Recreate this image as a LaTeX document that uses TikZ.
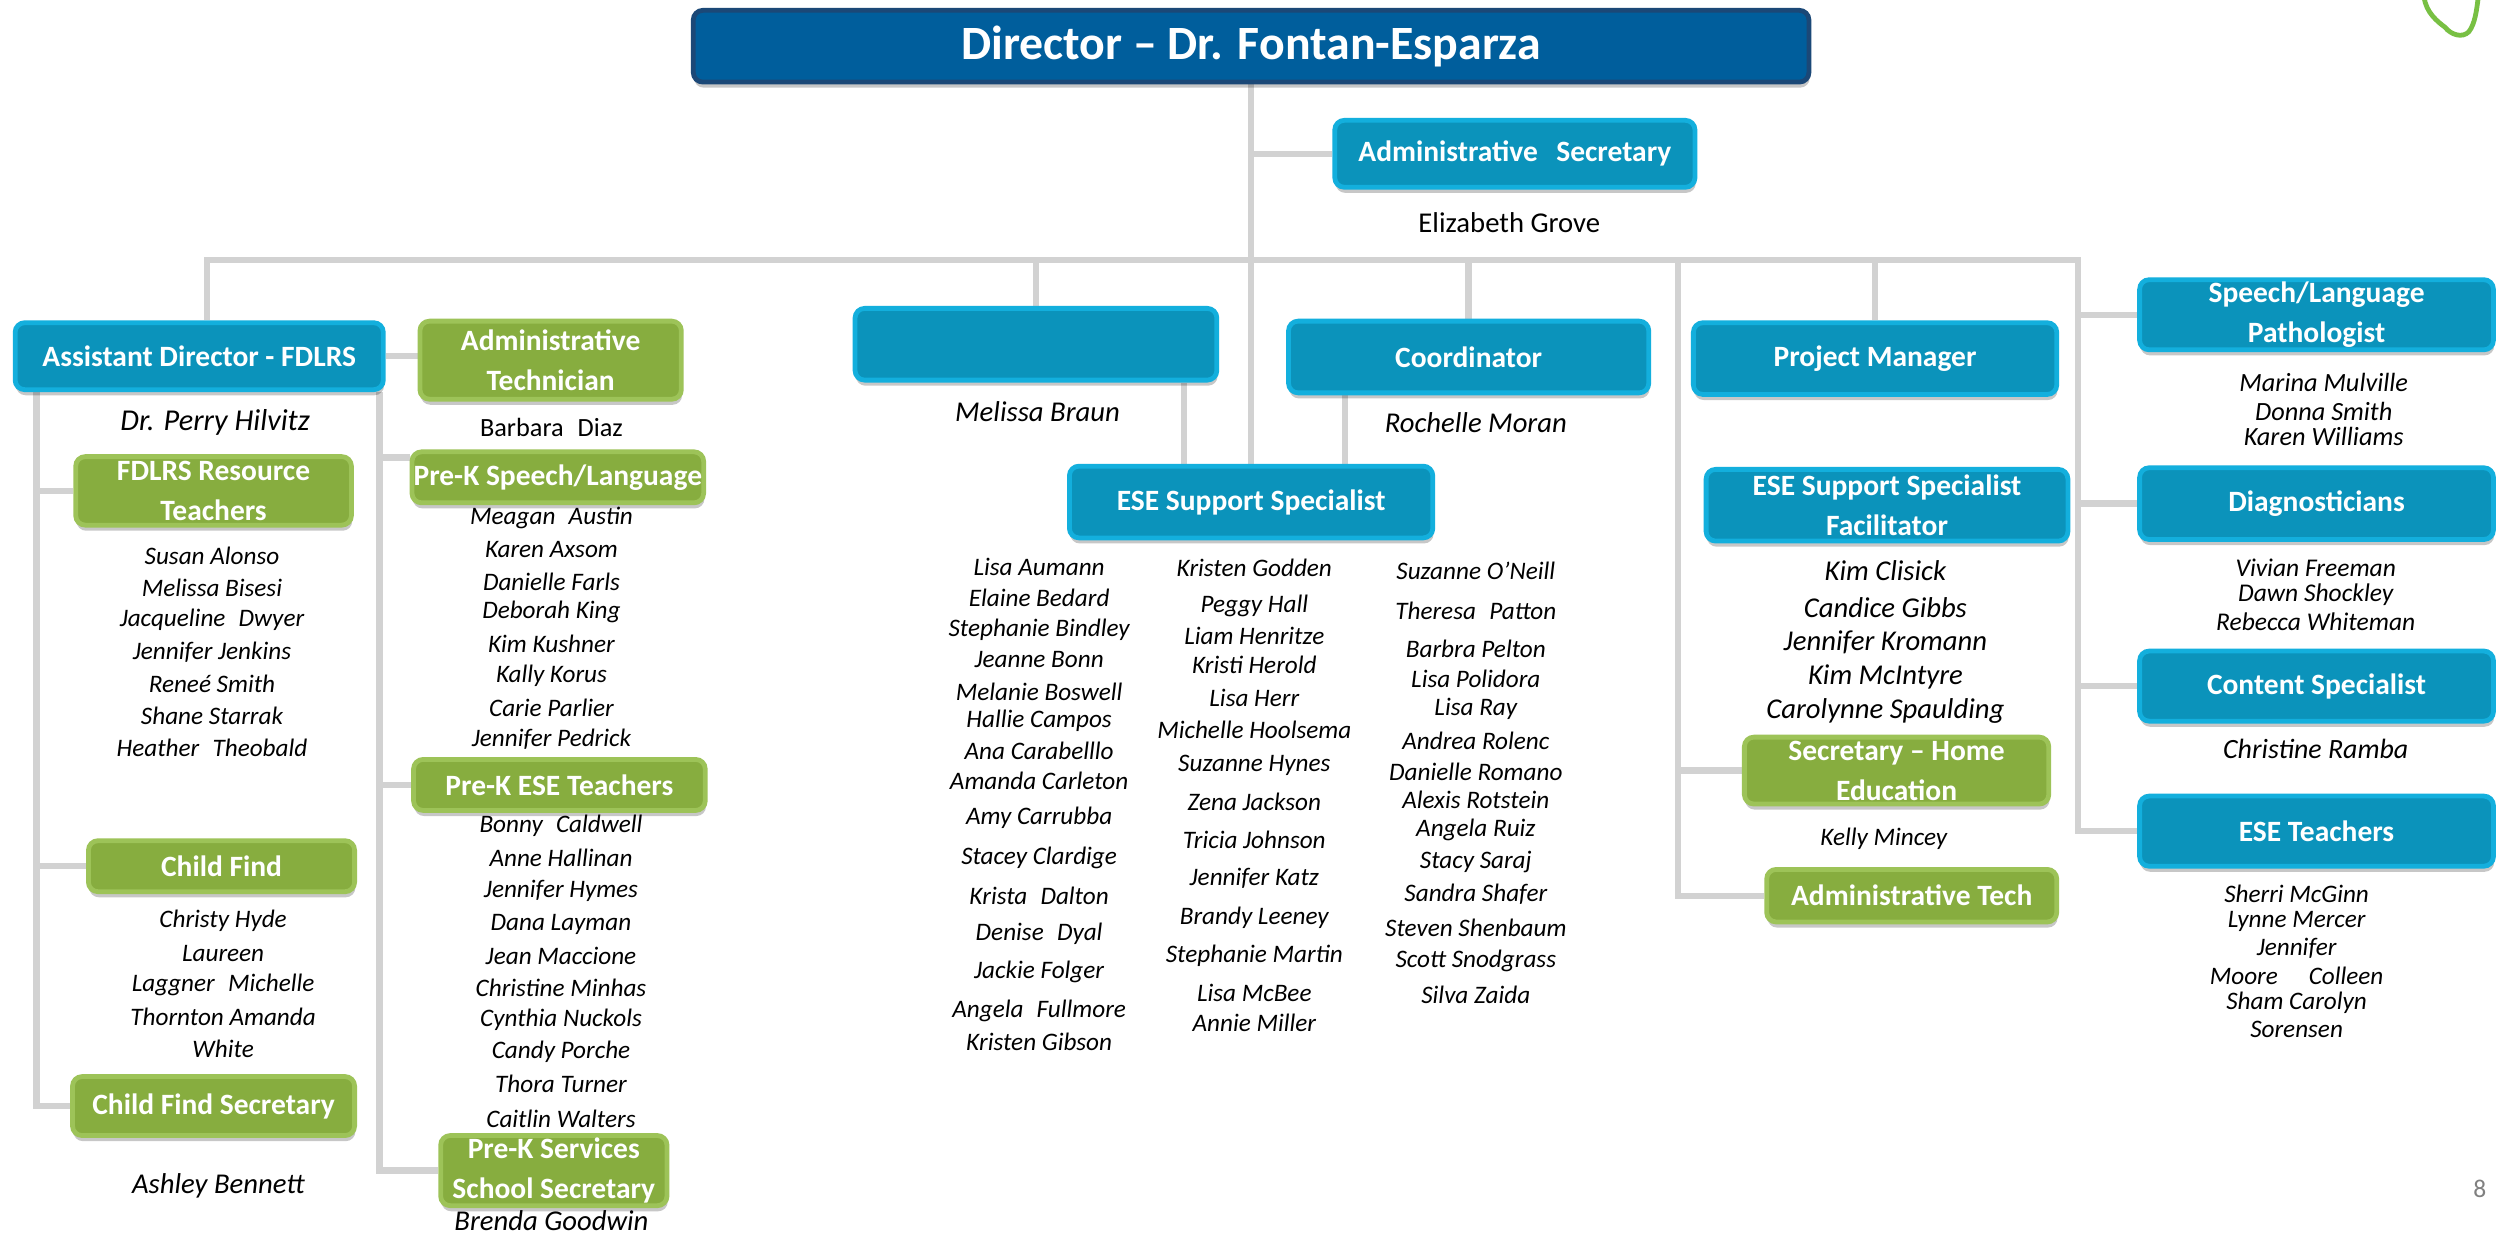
\documentclass[tikz,border=0pt]{standalone}
\usepackage{fontspec}
\setmainfont{Carlito}
\usetikzlibrary{shadows}
\definecolor{dirfill}{HTML}{005E9C}
\definecolor{dirborder}{HTML}{1B4877}
\definecolor{bluefill}{HTML}{0B93BB}
\definecolor{blueborder}{HTML}{13AFDD}
\definecolor{greenfill}{HTML}{87AD3F}
\definecolor{greenborder}{HTML}{9DC358}
\definecolor{connc}{HTML}{D2D2D2}
\definecolor{scrib}{HTML}{78C043}
\pgfdeclarelayer{bg}
\pgfsetlayers{bg,main}
\begin{document}
\begin{tikzpicture}[x=1pt,y=-1pt,
  conn/.style={draw=connc, line width=4pt},
  box/.style={rounded corners=6pt, line width=3pt, text=white, align=center, inner sep=0pt,
    font=\fontsize{18.5}{25}\selectfont\bfseries,
    drop shadow={shadow xshift=0.5pt, shadow yshift=-3.5pt, fill=black, opacity=0.22}},
  bluebox/.style={box, fill=bluefill, draw=blueborder},
  greenbox/.style={box, fill=greenfill, draw=greenborder},
  nm/.style={font=\fontsize{15.8}{20}\selectfont\itshape, inner sep=0pt},
  bignm/.style={font=\fontsize{18}{22}\selectfont\itshape, inner sep=0pt},
  rg/.style={font=\fontsize{17}{20}\selectfont, inner sep=0pt}]
\begin{pgfonlayer}{bg}
\fill[white] (0,0) rectangle (1568,775.5);
\end{pgfonlayer}
\useasboundingbox (0,0) rectangle (1568,775.5);

% ---- boxes ----
\node[box, fill=dirfill, draw=dirborder, minimum width=700pt, minimum height=45pt,
  font=\fontsize{30}{34}\selectfont\bfseries] (dir) at (785,29) {Director -- Dr. Fontan-Esparza};
\node[bluebox, minimum width=226pt, minimum height=42pt] (adsec) at (950.5,96.5) {Administrative\hspace{0.4em} Secretary};
\node[bluebox, minimum width=231pt, minimum height=42pt] (asst) at (125,223.5) {Assistant Director - FDLRS};
\node[greenbox, minimum width=164pt, minimum height=49pt] (adtech) at (345.5,226) {Administrative\\Technician};
\node[bluebox, minimum width=227pt, minimum height=45pt] (blank) at (650,216) {};
\node[bluebox, minimum width=226pt, minimum height=45pt] (coord) at (921.5,224) {Coordinator};
\node[bluebox, minimum width=228pt, minimum height=45pt] (pm) at (1176.5,225) {Project Manager};
\node[bluebox, minimum width=222pt, minimum height=44pt] (slp) at (1453.5,197.5) {Speech/Language\\Pathologist};
\node[bluebox, minimum width=222pt, minimum height=45pt] (diag) at (1453.5,316) {Diagnosticians};
\node[bluebox, minimum width=222pt, minimum height=44pt] (content) at (1453.5,430.5) {Content Specialist};
\node[bluebox, minimum width=222pt, minimum height=44pt] (eset) at (1453.5,521.5) {ESE Teachers};
\node[bluebox, minimum width=228pt, minimum height=45pt] (ese) at (785,315) {ESE Support Specialist};
\node[bluebox, minimum width=227pt, minimum height=45pt] (fac) at (1184,317) {ESE Support Specialist\\Facilitator};
\node[greenbox, minimum width=173pt, minimum height=43pt] (fdlrs) at (134,308) {FDLRS Resource\\Teachers};
\node[greenbox, minimum width=183pt, minimum height=32pt] (pksl) at (350,299.5) {Pre-K Speech/Language};
\node[greenbox, minimum width=183pt, minimum height=32pt] (pkese) at (351,492.5) {Pre-K ESE Teachers};
\node[greenbox, minimum width=167pt, minimum height=32pt] (cf) at (139,543.5) {Child Find};
\node[greenbox, minimum width=177pt, minimum height=37pt] (cfsec) at (134,694) {Child Find Secretary};
\node[greenbox, minimum width=142pt, minimum height=44pt] (pkss) at (347.5,734.5) {Pre-K Services\\School Secretary};
\node[greenbox, minimum width=191pt, minimum height=42pt] (sechome) at (1190,483.5) {Secretary -- Home\\Education};
\node[greenbox, minimum width=182pt, minimum height=33pt] (atech) at (1199.5,562) {Administrative Tech};

% ---- connectors ----
\coordinate (barR) at (1304,163);
\coordinate (pmL) at (1053,163);
\coordinate (at) at ([xshift=5pt]asst.north);
\coordinate (bl) at ([xshift=93pt]blank.south);
\coordinate (cl) at ([xshift=-77.5pt]coord.south);
\coordinate (al) at ([xshift=-102pt]asst.south);
\coordinate (ar) at ([xshift=113pt]asst.south);
\coordinate (pkslstub) at ([yshift=12.5pt]pksl.west);
\begin{pgfonlayer}{bg}
\draw[conn] (at) |- (barR) |- (eset.west);
\draw[conn] (dir.south) -- (ese.north);
\draw[conn] (dir.south |- adsec.west) -- (adsec.west);
\draw[conn] (barR |- slp.west) -- (slp.west);
\draw[conn] (barR |- diag.west) -- (diag.west);
\draw[conn] (barR |- content.west) -- (content.west);
\draw[conn] (blank.north) -- (blank.north |- barR);
\draw[conn] (coord.north) -- (coord.north |- barR);
\draw[conn] (pm.north) -- (pm.north |- barR);
\draw[conn] (pmL) |- (atech.west);
\draw[conn] (pmL |- sechome.west) -- (sechome.west);
\draw[conn] (bl) -- (bl |- ese.north);
\draw[conn] (cl) -- (cl |- ese.north);
\draw[conn] (al) |- (cfsec.west);
\draw[conn] (al |- fdlrs.west) -- (fdlrs.west);
\draw[conn] (al |- cf.west) -- (cf.west);
\draw[conn] (ar) |- (pkss.west);
\draw[conn] (ar |- pkslstub) -- (pkslstub);
\draw[conn] (ar |- pkese.west) -- (pkese.west);
\draw[conn] (asst.east) -- (asst.east -| adtech.west);
\end{pgfonlayer}

% ---- single names ----
\node[rg, font=\fontsize{18}{20}\selectfont] (egrove) at (947,140) {Elizabeth Grove};
\node[bignm, font=\fontsize{19}{22}\selectfont\itshape] (perry) at (135,265) {Dr. Perry Hilvitz};
\node[rg, font=\fontsize{16.5}{20}\selectfont] (bdiaz) at (346,268) {Barbara\hspace{0.3em} Diaz};
\node[bignm] (mbraun) at (651,258) {Melissa Braun};
\node[bignm] (rmoran) at (926,265) {Rochelle Moran};
\node[bignm] (bgood) at (346,766) {Brenda Goodwin};
\node[bignm] (abenn) at (137,744) {Ashley Bennett};
\node[nm] (kmincey) at (1182,526) {Kelly Mincey};
\node[nm, font=\fontsize{17.5}{20}\selectfont\itshape] (cramba) at (1453,470) {Christine Ramba};
\node[font=\fontsize{16}{20}\selectfont, text=gray, inner sep=0pt] (pgnum) at (1556,746) {8};

% ---- lists ----
\foreach \t/\y [count=\i] in {Susan Alonso/349, Melissa Bisesi/369, Jacqueline\hspace{0.3em} Dwyer/389,
  Jennifer Jenkins/409, Reneé Smith/429, Shane Starrak/449, Heather\hspace{0.3em} Theobald/469}
  \node[nm] (fd\i) at (133,\y) {\t};
\foreach \t/\y [count=\i] in {Meagan\hspace{0.3em} Austin/325, Karen Axsom/345, Danielle Farls/365,
  Deborah King/384, Kim Kushner/404, Kally Korus/424, Carie Parlier/444, Jennifer Pedrick/464}
  \node[nm] (ps\i) at (346,\y) {\t};
\foreach \t/\y [count=\i] in {Bonny\hspace{0.3em} Caldwell/518, Anne Hallinan/538, Jennifer Hymes/559,
  Dana Layman/580, Jean Maccione/600, Christine Minhas/620, Cynthia Nuckols/640,
  Candy Porche/660, Thora Turner/680, Caitlin Walters/702}
  \node[nm] (pe\i) at (352,\y) {\t};
\foreach \t/\y [count=\i] in {Christy Hyde/578, Laureen/598, Laggner\hspace{0.3em} Michelle/618,
  Thornton Amanda/638, White/658}
  \node[nm] (cfn\i) at (140,\y) {\t};
\foreach \t/\y [count=\i] in {Lisa Aumann/356, Elaine Bedard/375, Stephanie Bindley/395,
  Jeanne Bonn/414, Melanie Boswell/434, Hallie Campos/452, Ana Carabelllo/471,
  Amanda Carleton/490, Amy Carrubba/513, Stacey Clardige/538, Krista\hspace{0.3em} Dalton/562,
  Denise\hspace{0.3em} Dyal/586, Jackie Folger/610, Angela\hspace{0.3em} Fullmore/634, Kristen Gibson/654}
  \node[nm] (ea\i) at (652,\y) {\t};
\foreach \t/\y [count=\i] in {Kristen Godden/356, Peggy Hall/380, Liam Henritze/399,
  Kristi Herold/417, Lisa Herr/438, Michelle Hoolsema/458, Suzanne Hynes/480,
  Zena Jackson/503, Tricia Johnson/527, Jennifer Katz/551, Brandy Leeney/576,
  Stephanie Martin/600, Lisa McBee/623, Annie Miller/642}
  \node[nm] (eb\i) at (787,\y) {\t};
\foreach \t/\y [count=\i] in {Suzanne O’Neill/358, Theresa\hspace{0.3em} Patton/383, Barbra Pelton/407,
  Lisa Polidora/426, Lisa Ray/445, Andrea Rolenc/465, Danielle Romano/484,
  Alexis Rotstein/502, Angela Ruiz/521, Stacy Saraj/541, Sandra Shafer/561,
  Steven Shenbaum/582, Scott Snodgrass/603, Silva Zaida/624}
  \node[nm] (ec\i) at (926,\y) {\t};
\foreach \t/\y [count=\i] in {Kim Clisick/358, Candice Gibbs/381, Jennifer Kromann/403,
  Kim McIntyre/425, Carolynne Spaulding/446}
  \node[bignm] (fc\i) at (1183,\y) {\t};
\foreach \t/\y [count=\i] in {Marina Mulville/240, Donna Smith/258, Karen Williams/274}
  \node[nm, font=\fontsize{16.5}{20}\selectfont\itshape] (sl\i) at (1458,\y) {\t};
\foreach \t/\y [count=\i] in {Vivian Freeman/356, Dawn Shockley/373, Rebecca Whiteman/390}
  \node[nm, font=\fontsize{16}{20}\selectfont\itshape] (dg\i) at (1453,\y) {\t};
\foreach \t/\y [count=\i] in {Sherri McGinn/561, Lynne Mercer/578, Jennifer/595,
  Moore\hspace{1em} Colleen/612, Sham Carolyn/629, Sorensen/646}
  \node[nm] (et\i) at (1441,\y) {\t};

% ---- scribble ----
\draw[scrib, line width=3pt, line cap=round]
  (1521,-2) .. controls (1522,8) and (1530,14) .. (1534,17)
  .. controls (1538,22) and (1545,24) .. (1549,20)
  .. controls (1553,15) and (1554,6) .. (1555,-2);
\end{tikzpicture}
\end{document}
